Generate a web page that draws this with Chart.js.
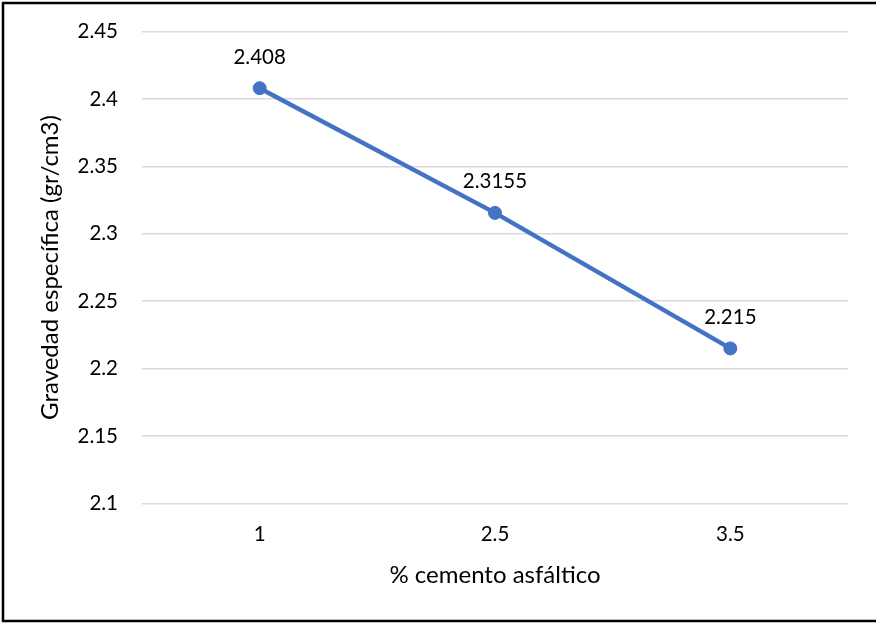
<!DOCTYPE html>
<html>
<head>
<meta charset="utf-8">
<script src="https://cdn.jsdelivr.net/npm/chart.js@4/dist/chart.umd.min.js"></script>
<style>
  html, body { margin: 0; padding: 0; background: #fff; }
  #wrap { width: 876px; height: 623px; position: relative; }
</style>
</head>
<body>
<div id="wrap"><canvas id="c" width="876" height="623"></canvas></div>
<script>
// Asphalt cement content vs. specific gravity
const categories = ['1', '2.5', '3.5'];
const gravedad = [2.408, 2.3155, 2.215];
const yMin = 2.1, yMax = 2.45, yStep = 0.05;

const FONT = 'Lato, "Open Sans", sans-serif';
const BLUE = '#4472C4';
const TICK_SIZE = 20.5;
const TITLE_SIZE = 24;

// value labels above each point
const valueLabels = {
  id: 'valueLabels',
  afterDatasetsDraw(chart) {
    const ctx = chart.ctx;
    const meta = chart.getDatasetMeta(0);
    const data = chart.data.datasets[0].data;
    ctx.save();
    ctx.font = TICK_SIZE + 'px ' + FONT;
    ctx.fillStyle = '#000';
    ctx.textAlign = 'center';
    ctx.textBaseline = 'middle';
    meta.data.forEach((pt, i) => {
      ctx.fillText(String(data[i]), pt.x, pt.y - 31);
    });
    ctx.restore();
  }
};

// outer frame of the chart
const frame = {
  id: 'frame',
  afterDraw(chart) {
    const ctx = chart.ctx;
    ctx.save();
    ctx.strokeStyle = '#000';
    ctx.lineWidth = 2.5;
    ctx.strokeRect(3, 3, 900, 618);
    ctx.restore();
  }
};

new Chart(document.getElementById('c'), {
  type: 'line',
  data: {
    labels: categories,
    datasets: [{
      data: gravedad,
      borderColor: BLUE,
      backgroundColor: BLUE,
      borderWidth: 4.5,
      pointRadius: 6.5,
      pointBorderWidth: 1,
      pointBackgroundColor: BLUE,
      pointBorderColor: BLUE,
      tension: 0,
      clip: false
    }]
  },
  options: {
    responsive: false,
    animation: false,
    layout: { padding: { top: 31.5, right: 28, left: 0, bottom: 0 } },
    plugins: { legend: { display: false }, tooltip: { enabled: false } },
    scales: {
      x: {
        offset: true,
        grid: { display: false, drawTicks: false },
        border: { display: false },
        ticks: { color: '#000', font: { family: FONT, size: TICK_SIZE }, padding: 19 },
        title: {
          display: true, text: '% cemento asfáltico', color: '#000',
          font: { family: FONT, size: TITLE_SIZE }, padding: 33
        },
        afterFit(scale) { scale.height = 623 - 503.5; }
      },
      y: {
        min: yMin, max: yMax,
        ticks: {
          stepSize: yStep, color: '#000', font: { family: FONT, size: TICK_SIZE }, padding: 24,
          callback: v => String(Number(v.toFixed(2)))
        },
        grid: { color: '#d9d9d9', lineWidth: 1.5, drawTicks: false },
        border: { display: false },
        title: {
          display: true, text: 'Gravedad específica (gr/cm3)', color: '#000',
          font: { family: FONT, size: TITLE_SIZE }, padding: 36
        },
        afterFit(scale) {
          scale.width = 142;
          scale.paddingTop = 0;
          scale.paddingBottom = 0;
        }
      }
    }
  },
  plugins: [valueLabels, frame]
});
</script>
</body>
</html>
